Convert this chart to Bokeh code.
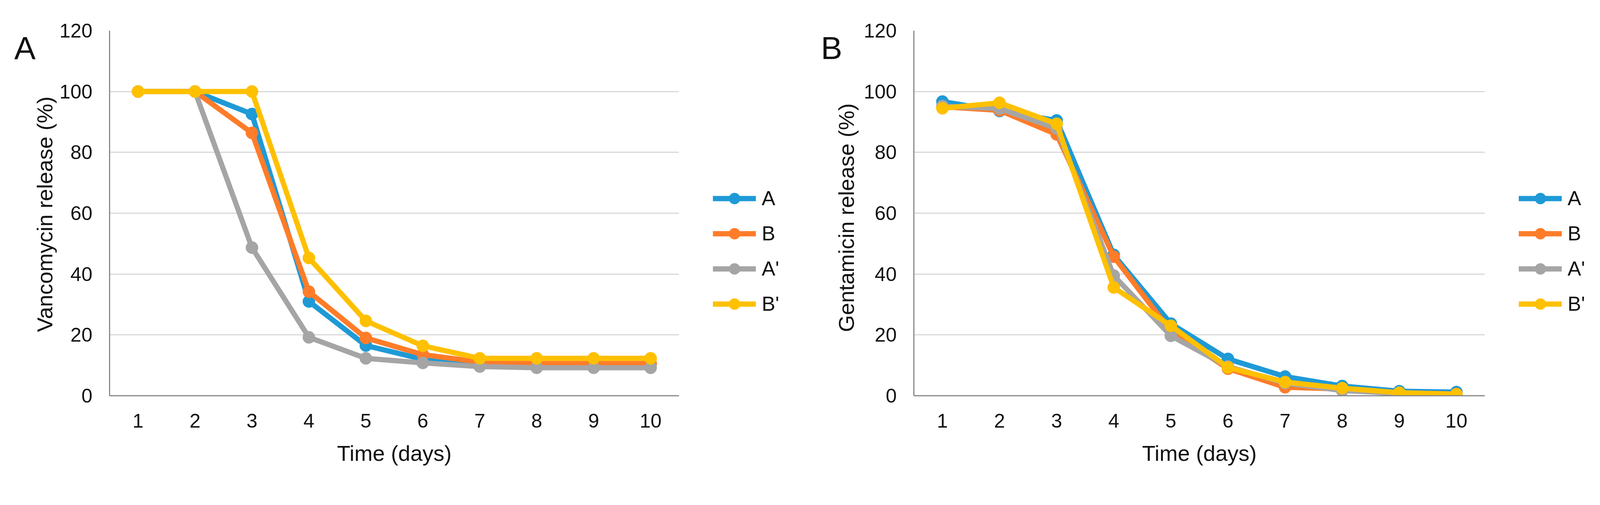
from bokeh.plotting import figure
from bokeh.models import Range1d, Legend, LegendItem, FixedTicker, Label
from bokeh.layouts import row
from bokeh.embed import file_html
from bokeh.resources import INLINE

# ---------------- data ----------------
days = [1, 2, 3, 4, 5, 6, 7, 8, 9, 10]
y_ticks = [0, 20, 40, 60, 80, 100, 120]
series_names = ["A", "B", "A'", "B'"]

# Panel A: Vancomycin release (%)
vanco_A = [100, 100, 92.6, 31.0, 16.5, 12.0, 10.6, 10.4, 10.4, 10.4]
vanco_B = [100, 100, 86.4, 34.2, 19.0, 13.5, 11.1, 10.6, 10.6, 10.6]
vanco_Ap = [100, 100, 48.7, 19.2, 12.3, 10.8, 9.6, 9.2, 9.2, 9.2]
vanco_Bp = [100, 100, 100, 45.3, 24.6, 16.4, 12.3, 12.3, 12.3, 12.3]

# Panel B: Gentamicin release (%)
genta_A = [96.7, 93.6, 90.5, 46.3, 23.7, 12.1, 6.3, 3.2, 1.5, 1.2]
genta_B = [95.0, 93.8, 85.9, 45.7, 21.2, 8.9, 2.8, 2.2, 1.0, 0.6]
genta_Ap = [95.2, 94.4, 87.9, 39.5, 19.7, 9.6, 4.2, 1.7, 0.8, 0.5]
genta_Bp = [94.5, 96.3, 89.4, 35.6, 23.0, 9.3, 4.5, 2.5, 1.0, 0.5]

vanco = [vanco_A, vanco_B, vanco_Ap, vanco_Bp]
genta = [genta_A, genta_B, genta_Ap, genta_Bp]
colors = ["#1E9AD6", "#FF7C29", "#A5A5A5", "#FFC000"]

FONT = "Liberation Sans"
H = 1222          # figure height
TOP = 78          # frame top border
FH = 934          # frame height
FB = 8 + TOP + FH  # page y of the frame bottom (1020)
LINE_W = 13.3
MARK = 31.4
TXT = "#111111"


def blank_fig(width):
    f = figure(width=width, height=H, x_range=Range1d(-10, -9),
               y_range=Range1d(-10, -9), output_backend="svg",
               toolbar_location=None, x_axis_type=None, y_axis_type=None,
               min_border=0)
    f.outline_line_color = None
    f.background_fill_color = "white"
    f.border_fill_color = "white"
    f.title.visible = False
    for g in f.grid:
        g.visible = False
    return f


def add_letter(f, text, x):
    # side figures share the frame rows of the charts (bottom at page y FB)
    f.add_layout(Label(x=x, y=FB - 130, x_units="screen", y_units="screen",
                       text=text, text_font=FONT, text_font_size="82px",
                       text_color=TXT, text_baseline="alphabetic"))


def add_ytitle(f, text, x):
    # rotated title, anchored at its lower end so it reads bottom-to-top
    f.add_layout(Label(x=x, y=FB - 857, x_units="screen", y_units="screen",
                       text=text, angle=90, angle_units="deg",
                       text_font=FONT, text_font_size="56px", text_color=TXT,
                       text_align="left", text_baseline="alphabetic"))


def add_legend(f, series, x0):
    items = []
    for name, vals, col in zip(series_names, series, colors):
        ln = f.line(days, vals, line_color=col, line_width=LINE_W,
                    line_join="round", line_cap="round")
        sc = f.scatter(days, vals, marker="circle", size=MARK,
                       fill_color=col, line_color=col)
        items.append(LegendItem(label=name, renderers=[ln, sc]))
    bottom = 779 + 35.5 + 6
    leg = Legend(items=items, location=(x0, FB - bottom),
                 orientation="vertical", glyph_width=110, glyph_height=71,
                 label_height=71, spacing=19, padding=0, margin=0,
                 label_standoff=15, border_line_color=None,
                 background_fill_alpha=0,
                 label_text_font=FONT, label_text_font_size="52px",
                 label_text_color=TXT)
    f.add_layout(leg)


def make_panel(width, border_left, series):
    p = figure(width=width, height=H,
               x_range=Range1d(0.5, 10.5), y_range=Range1d(0, 120),
               output_backend="svg", toolbar_location=None,
               min_border_left=border_left, min_border_right=0,
               min_border_top=TOP, min_border_bottom=H - TOP - FH)
    p.title.visible = False
    p.outline_line_color = None
    p.background_fill_color = "white"
    p.border_fill_color = "white"

    p.xaxis.ticker = FixedTicker(ticks=days)
    p.yaxis.ticker = FixedTicker(ticks=y_ticks)
    for ax in (p.xaxis, p.yaxis):
        ax.major_tick_line_color = None
        ax.minor_tick_line_color = None
        ax.major_tick_out = 0
        ax.minor_tick_out = 0
        ax.axis_line_color = "#8A8A8A"
        ax.axis_line_width = 3
        ax.major_label_text_font = FONT
        ax.major_label_text_font_size = "50.5px"
        ax.major_label_text_color = TXT
        ax.axis_label_text_font = FONT
        ax.axis_label_text_font_size = "56px"
        ax.axis_label_text_font_style = "normal"
        ax.axis_label_text_color = TXT
    p.xaxis.major_label_standoff = 46
    p.xaxis.axis_label_standoff = 31
    p.yaxis.major_label_standoff = 44
    p.xaxis.axis_label = "Time (days)"

    p.xgrid.grid_line_color = None
    p.ygrid.grid_line_color = "#D9D9D9"
    p.ygrid.grid_line_width = 2.9

    for vals, col in zip(series, colors):
        p.line(days, vals, line_color=col, line_width=LINE_W,
               line_join="round", line_cap="round")
        p.scatter(days, vals, marker="circle", size=MARK,
                  fill_color=col, line_color=col)
    return p


# page (x): [letter A + y title] | panel A | [legend A, letter B, y title B] | panel B | [legend B]
fLeft = blank_fig(145)
add_letter(fLeft, "A", 36)
add_ytitle(fLeft, "Vancomycin release (%)", 114)

pA = make_panel(1593, 135, vanco)

fMid = blank_fig(466)
add_legend(fMid, vanco, 87)
add_letter(fMid, "B", 363)
add_ytitle(fMid, "Gentamicin release (%)", 428)

pB = make_panel(1597, 135, genta)

fRight = blank_fig(277)
add_legend(fRight, genta, 87)

layout = row(fLeft, pA, fMid, pB, fRight)
open("out.html", "w").write(file_html(layout, INLINE))
